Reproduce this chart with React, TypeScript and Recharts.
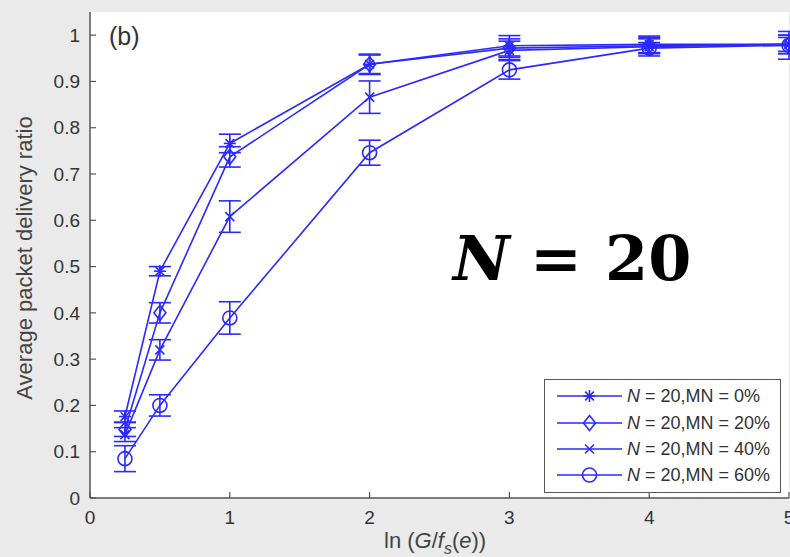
import React from 'react';
import {
  LineChart,
  Line,
  XAxis,
  YAxis,
  ErrorBar,
  CartesianGrid,
  Legend,
  Customized,
} from 'recharts';

// ln(G / f_s(e)) sample points
const xValues = [0.25, 0.5, 1, 2, 3, 4, 5];

// Average packet delivery ratio per malicious-node share, with error half-widths
const mn0 = [0.176, 0.49, 0.766, 0.937, 0.977, 0.98, 0.98];
const mn0Err = [0.012, 0.01, 0.02, 0.02, 0.022, 0.018, 0.015];
const mn20 = [0.148, 0.4, 0.737, 0.937, 0.972, 0.977, 0.98];
const mn20Err = [0.015, 0.022, 0.022, 0.022, 0.02, 0.015, 0.02];
const mn40 = [0.137, 0.32, 0.608, 0.866, 0.967, 0.975, 0.98];
const mn40Err = [0.015, 0.022, 0.034, 0.035, 0.02, 0.02, 0.02];
const mn60 = [0.085, 0.2, 0.389, 0.746, 0.925, 0.972, 0.978];
const mn60Err = [0.028, 0.023, 0.035, 0.027, 0.02, 0.012, 0.03];

const xTicks = [0, 1, 2, 3, 4, 5];
const yTicks = [0, 0.1, 0.2, 0.3, 0.4, 0.5, 0.6, 0.7, 0.8, 0.9, 1];
const mnLabels = ['0%', '20%', '40%', '60%'];

const BLUE = '#2a2aff';
const AXIS = '#555';
const TEXT = '#333';
const SANS = '"Liberation Sans", Arial, Helvetica, sans-serif';

type Shape = 'asterisk' | 'diamond' | 'cross' | 'circle';

const series: { key: string; err: string; shape: Shape; pct: string }[] = [
  { key: 'mn0', err: 'mn0Err', shape: 'asterisk', pct: mnLabels[0] },
  { key: 'mn20', err: 'mn20Err', shape: 'diamond', pct: mnLabels[1] },
  { key: 'mn40', err: 'mn40Err', shape: 'cross', pct: mnLabels[2] },
  { key: 'mn60', err: 'mn60Err', shape: 'circle', pct: mnLabels[3] },
];

const rows = xValues.map((x, i) => ({
  x,
  mn0: mn0[i],
  mn0Err: mn0Err[i],
  mn20: mn20[i],
  mn20Err: mn20Err[i],
  mn40: mn40[i],
  mn40Err: mn40Err[i],
  mn60: mn60[i],
  mn60Err: mn60Err[i],
}));

function Marker({ shape, cx, cy }: { shape: Shape; cx: number; cy: number }) {
  const common = { stroke: BLUE, strokeWidth: 1.6, fill: 'none' };
  if (shape === 'asterisk') {
    const r = 6;
    const d = r * 0.72;
    return (
      <g {...common}>
        <line x1={cx - r} y1={cy} x2={cx + r} y2={cy} />
        <line x1={cx} y1={cy - r} x2={cx} y2={cy + r} />
        <line x1={cx - d} y1={cy - d} x2={cx + d} y2={cy + d} />
        <line x1={cx - d} y1={cy + d} x2={cx + d} y2={cy - d} />
      </g>
    );
  }
  if (shape === 'diamond') {
    return (
      <path
        {...common}
        d={`M${cx},${cy - 7.5} L${cx + 6},${cy} L${cx},${cy + 7.5} L${cx - 6},${cy} Z`}
      />
    );
  }
  if (shape === 'cross') {
    const r = 4.5;
    return (
      <g {...common}>
        <line x1={cx - r} y1={cy - r} x2={cx + r} y2={cy + r} />
        <line x1={cx - r} y1={cy + r} x2={cx + r} y2={cy - r} />
      </g>
    );
  }
  return <circle {...common} cx={cx} cy={cy} r={7} />;
}

const makeDot = (shape: Shape) => (p: any) => (
  <Marker key={`${shape}-${p.index}`} shape={shape} cx={p.cx} cy={p.cy} />
);

function LegendBox() {
  return (
    <div
      style={{
        width: 237,
        height: 114,
        boxSizing: 'border-box',
        border: `1.5px solid ${AXIS}`,
        background: '#fff',
        paddingTop: 3,
      }}
    >
      {series.map((s) => (
        <div
          key={s.key}
          style={{ display: 'flex', alignItems: 'center', height: 26.4 }}
        >
          <svg width={82} height={22} style={{ display: 'block', flex: 'none' }}>
            <line x1={12} y1={11} x2={77} y2={11} stroke={BLUE} strokeWidth={1.6} />
            <Marker shape={s.shape} cx={44.5} cy={11} />
          </svg>
          <span
            style={{
              fontFamily: SANS,
              fontSize: 18,
              color: TEXT,
              whiteSpace: 'nowrap',
              lineHeight: '22px',
            }}
          >
            <i>N</i> = 20,MN = {s.pct}
          </span>
        </div>
      ))}
    </div>
  );
}

function Annotations() {
  return (
    <g>
      <text x={109} y={45} fontFamily={SANS} fontSize={25} fill={TEXT}>
        (b)
      </text>
      <text
        x={453}
        y={280}
        fontFamily='"DejaVu Serif", serif'
        fontWeight="bold"
        fontStyle="italic"
        fontSize={62}
        fill="#000"
      >
        N
      </text>
      <text
        x={530}
        y={280}
        fontFamily='"DejaVu Serif", serif'
        fontWeight="bold"
        fontSize={62}
        fill="#000"
      >
        =
      </text>
      <text
        x={605}
        y={280}
        fontFamily='"DejaVu Serif", serif'
        fontWeight="bold"
        fontSize={62}
        fill="#000"
      >
        20
      </text>
      <text
        transform="translate(32,258) rotate(-90)"
        textAnchor="middle"
        fontFamily={SANS}
        fontSize={22}
        fill="#444"
      >
        Average packet delivery ratio
      </text>
      <text x={384} y={548} fontFamily={SANS} fontSize={22} fill="#444">
        <tspan>ln (</tspan>
        <tspan fontStyle="italic">G</tspan>
        <tspan>/</tspan>
        <tspan fontStyle="italic">f</tspan>
        <tspan fontStyle="italic" fontSize={16} dy={6}>
          s
        </tspan>
        <tspan dy={-6}>(</tspan>
        <tspan fontStyle="italic">e</tspan>
        <tspan>))</tspan>
      </text>
    </g>
  );
}

export default function App() {
  return (
    <div
      style={{
        position: 'absolute',
        left: 0,
        top: 0,
        width: 790,
        height: 557,
        background: '#eaeaea',
        overflow: 'hidden',
      }}
    >
      <LineChart
        width={790}
        height={557}
        data={rows}
        margin={{ top: 12, right: 1, bottom: 0, left: 0 }}
      >
        <CartesianGrid fill="#fff" fillOpacity={1} horizontal={false} vertical={false} />
        <XAxis
          dataKey="x"
          type="number"
          domain={[0, 5]}
          ticks={xTicks}
          height={59}
          tickSize={-6}
          tickMargin={19}
          axisLine={{ stroke: AXIS, strokeWidth: 1.5 }}
          tickLine={{ stroke: AXIS, strokeWidth: 1.2 }}
          tick={{ fill: TEXT, fontSize: 19, fontFamily: SANS }}
          interval={0}
        />
        <XAxis
          xAxisId="top"
          orientation="top"
          type="number"
          domain={[0, 5]}
          ticks={xTicks}
          height={0}
          tickSize={-6}
          axisLine={{ stroke: AXIS, strokeWidth: 1.5 }}
          tickLine={{ stroke: AXIS, strokeWidth: 1.2 }}
          tick={false}
        />
        <YAxis
          type="number"
          domain={[0, 1.05]}
          ticks={yTicks}
          width={90}
          tickSize={-6}
          tickMargin={16}
          axisLine={{ stroke: AXIS, strokeWidth: 1.5 }}
          tickLine={{ stroke: AXIS, strokeWidth: 1.2 }}
          tick={{ fill: TEXT, fontSize: 19, fontFamily: SANS }}
          interval={0}
        />
        <YAxis
          yAxisId="right"
          orientation="right"
          type="number"
          domain={[0, 1.05]}
          ticks={yTicks}
          width={0}
          tickSize={-6}
          axisLine={{ stroke: AXIS, strokeWidth: 1.5 }}
          tickLine={{ stroke: AXIS, strokeWidth: 1.2 }}
          tick={false}
        />
        <Customized component={Annotations} />
        {series.map((s) => (
          <Line
            key={s.key}
            dataKey={s.key}
            name={`N = 20,MN = ${s.pct}`}
            stroke={BLUE}
            strokeWidth={1.6}
            dot={makeDot(s.shape)}
            activeDot={false}
            isAnimationActive={false}
          >
            <ErrorBar
              dataKey={s.err}
              width={11}
              stroke={BLUE}
              strokeWidth={1.6}
              direction="y"
              isAnimationActive={false}
            />
          </Line>
        ))}
        <Legend
          layout="vertical"
          align="center"
          verticalAlign="middle"
          content={() => <LegendBox />}
          wrapperStyle={{ position: 'absolute', left: 544, top: 379, width: 237, height: 114 }}
        />
      </LineChart>
    </div>
  );
}
